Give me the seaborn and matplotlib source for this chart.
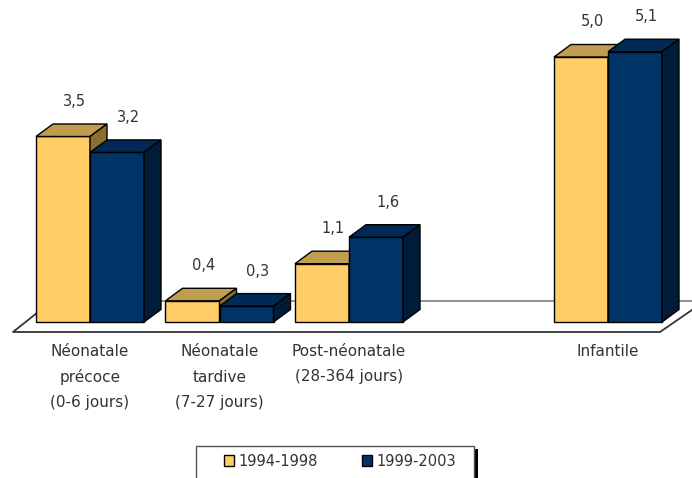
import numpy as np
import pandas as pd
import matplotlib
matplotlib.use("Agg")
import matplotlib.pyplot as plt
from matplotlib.patches import Polygon, Rectangle, Patch
import seaborn as sns

# --- data -------------------------------------------------------------
categories = ["Néonatale\nprécoce\n(0-6 jours)",
              "Néonatale\ntardive\n(7-27 jours)",
              "Post-néonatale\n(28-364 jours)",
              "Infantile"]
periods = ["1994-1998", "1999-2003"]
values_1994_1998 = [3.5, 0.4, 1.1, 5.0]
values_1999_2003 = [3.2, 0.3, 1.6, 5.1]
value_labels_1994_1998 = ["3,5", "0,4", "1,1", "5,0"]
value_labels_1999_2003 = ["3,2", "0,3", "1,6", "5,1"]

# an empty slot separates the partial periods from the whole first year
order = categories[:3] + [" "] + categories[3:]

df = pd.DataFrame({
    "categorie": categories * 2,
    "periode": [periods[0]] * 4 + [periods[1]] * 4,
    "valeur": values_1994_1998 + values_1999_2003,
})

front = {"1994-1998": "#FFCC66", "1999-2003": "#003366"}
top = {"1994-1998": "#C19D50", "1999-2003": "#002A55"}
side = {"1994-1998": "#8C6E32", "1999-2003": "#001C38"}
text_color = "#333333"

W, H = 692, 478
sns.set_theme(style="white")
plt.rcParams["font.family"] = ["DejaVu Sans"]
fig = plt.figure(figsize=(W / 100, H / 100), dpi=100)
ax = fig.add_axes([0, 0, 1, 1])

sns.barplot(data=df, x="categorie", y="valeur", hue="periode",
            order=order, hue_order=periods, palette=front, saturation=1,
            width=0.834, gap=0, edgecolor="black", linewidth=1,
            legend=False, ax=ax, zorder=2)
ax.set_axis_off()

# pixel layout: slot 0 centre at x=90, 129.5 px per slot; baseline 156 px
# from the bottom, 53 px per unit
ax.set_xlim(-90 / 129.5, (W - 90) / 129.5)
ax.set_ylim(-156 / 53, (H - 156) / 53)

to_disp = ax.transData.transform
to_data = ax.transData.inverted().transform
DX, DY = 17, 12.5  # depth of the 3-D boxes, in pixels


def shifted(pts, shifts):
    d = to_disp(np.array(pts))
    d = d + np.array(shifts)
    return to_data(d)


def px(x, y_top):
    return to_data([[x, H - y_top]])[0]


# --- floor ------------------------------------------------------------
floor_front_l, floor_front_r = px(13, 332), px(660, 332)
floor_back_l, floor_back_r = px(52, 301), px(705, 301)
ax.plot([floor_back_l[0], floor_back_r[0]], [floor_back_l[1], floor_back_r[1]],
        color="#8A8A8A", lw=1.3, zorder=0.5)
ax.plot([floor_back_l[0], floor_front_l[0], floor_front_r[0], floor_back_r[0]],
        [floor_back_l[1], floor_front_l[1], floor_front_r[1], floor_back_r[1]],
        color="#333333", lw=1.3, zorder=0.6)

# --- 3-D faces and value labels ----------------------------------------
label_sets = [value_labels_1994_1998, value_labels_1999_2003]
value_sets = [values_1994_1998, values_1999_2003]
for k, (period, cont) in enumerate(zip(periods, ax.containers)):
    z = 2 + k
    bars = [b for b in cont.patches if np.isfinite(b.get_height()) and b.get_height() > 0]
    for i, bar in enumerate(bars):
        bar.set_zorder(z)
        x0, y0 = bar.get_x(), bar.get_y()
        x1, y1 = x0 + bar.get_width(), y0 + bar.get_height()
        top_face = shifted([[x0, y1], [x1, y1], [x1, y1], [x0, y1]],
                           [[0, 0], [0, 0], [DX, DY], [DX, DY]])
        side_face = shifted([[x1, y0], [x1, y1], [x1, y1], [x1, y0]],
                            [[0, 0], [0, 0], [DX, DY], [DX, DY]])
        ax.add_patch(Polygon(top_face, closed=True, facecolor=top[period],
                             edgecolor="black", lw=1, zorder=z + 0.1))
        ax.add_patch(Polygon(side_face, closed=True, facecolor=side[period],
                             edgecolor="black", lw=1, zorder=z + 0.1))
        v = value_sets[k][i]
        lx = (x0 + x1) / 2
        pos = to_data(to_disp([[lx, v]]) + np.array([[DX / 2 + 3, 35]]))[0]
        ax.text(pos[0], pos[1], label_sets[k][i], ha="center", va="center",
                fontsize=10.5, color=text_color, zorder=6)

# --- category labels ---------------------------------------------------
for cat in categories:
    xpos = order.index(cat)
    for j, line in enumerate(cat.split("\n")):
        yp = px(0, 352 + 25 * j)[1]
        ax.text(xpos, yp, line, ha="center", va="center", fontsize=11,
                color=text_color)

# --- legend --------------------------------------------------------------
fig.add_artist(Rectangle((474 / W, 0), 4 / W, (H - 449) / H,
                         transform=fig.transFigure, facecolor="black",
                         edgecolor="none", zorder=1))
fig.add_artist(Rectangle((196 / W, -0.05), (474 - 196) / W, 0.05 + (H - 446) / H,
                         transform=fig.transFigure, facecolor="white",
                         edgecolor="#555555", lw=1, zorder=2))
handles = [Patch(facecolor=front[p], edgecolor="black", lw=1) for p in periods]
leg = fig.legend(handles, periods, loc="center left",
                 bbox_to_anchor=(224 / W, 1 - 461 / H), ncol=2, frameon=False,
                 handlelength=0.7, handleheight=0.7, handletextpad=0.3,
                 columnspacing=3.0, fontsize=10.5, borderpad=0, borderaxespad=0)
for t in leg.get_texts():
    t.set_color(text_color)
leg.set_zorder(3)

fig.savefig("out.png", dpi=100)
